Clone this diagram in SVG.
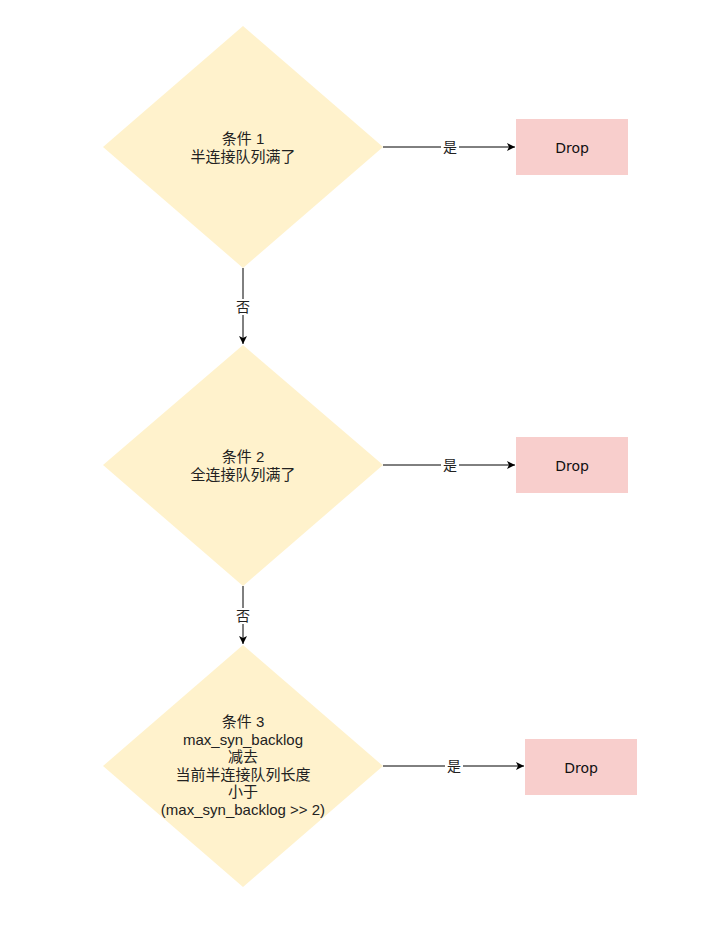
<svg xmlns="http://www.w3.org/2000/svg" width="711" height="928" viewBox="0 0 711 928">
<defs>
<marker id="arr" markerWidth="10" markerHeight="10" refX="9" refY="5" orient="auto" markerUnits="userSpaceOnUse">
<path d="M1,1 L9,5 L1,9 L3,5 Z" fill="#000"/>
</marker>
<style>
.dia{fill:#fff2cc;stroke:none}
.drop{fill:#f8cecc;stroke:none}
.t{font-family:"Liberation Sans","Noto Sans CJK SC",sans-serif;font-size:15px;fill:#222;text-anchor:middle}
.d{font-family:"Comic Sans MS","DejaVu Sans","Noto Sans",sans-serif;font-size:14px;fill:#111;text-anchor:middle}
.lbl{font-family:"Liberation Sans","Noto Sans CJK SC",sans-serif;font-size:14px;fill:#222;text-anchor:middle}
.c{stroke:#000;stroke-width:1;fill:none}
</style>
</defs>
<rect width="711" height="928" fill="#fff"/>
<g id="cond1">
<polygon class="dia" points="243,26 383,147 243,268 103,147"/>
<text class="t" x="243" y="144">条件 1</text>
<text class="t" x="243" y="162">半连接队列满了</text>
</g>
<g id="cond2">
<polygon class="dia" points="243,345 383,465 243,586 103,465"/>
<text class="t" x="243" y="462">条件 2</text>
<text class="t" x="243" y="480">全连接队列满了</text>
</g>
<g id="cond3">
<polygon class="dia" points="243,645 383,766 243,887 103,766"/>
<text class="t" x="243" y="727">条件 3</text>
<text class="t" x="243" y="745">max_syn_backlog</text>
<text class="t" x="243" y="762">减去</text>
<text class="t" x="243" y="780">当前半连接队列长度</text>
<text class="t" x="243" y="797">小于</text>
<text class="t" x="243" y="815">(max_syn_backlog &gt;&gt; 2)</text>
</g>
<g id="drop1">
<rect class="drop" x="516" y="119" width="112" height="56"/>
<text class="d" x="572" y="153">Drop</text>
</g>
<g id="drop2">
<rect class="drop" x="516" y="437" width="112" height="56"/>
<text class="d" x="572" y="471">Drop</text>
</g>
<g id="drop3">
<rect class="drop" x="525" y="739" width="112" height="56"/>
<text class="d" x="581" y="773">Drop</text>
</g>
<g id="connectors">
<path class="c" d="M383,147 L515,147" marker-end="url(#arr)"/>
<rect x="441" y="139" width="18" height="16" fill="#fff"/>
<text class="lbl" x="450" y="152">是</text>
<path class="c" d="M383,465 L515,465" marker-end="url(#arr)"/>
<rect x="441" y="457" width="18" height="16" fill="#fff"/>
<text class="lbl" x="450" y="470">是</text>
<path class="c" d="M383,766 L524,766" marker-end="url(#arr)"/>
<rect x="445" y="758" width="18" height="16" fill="#fff"/>
<text class="lbl" x="454" y="771">是</text>
<path class="c" d="M243,268 L243,344" marker-end="url(#arr)"/>
<rect x="234" y="299" width="18" height="16" fill="#fff"/>
<text class="lbl" x="243" y="312">否</text>
<path class="c" d="M243,586 L243,644" marker-end="url(#arr)"/>
<rect x="234" y="608" width="18" height="16" fill="#fff"/>
<text class="lbl" x="243" y="621">否</text>
</g>
</svg>
